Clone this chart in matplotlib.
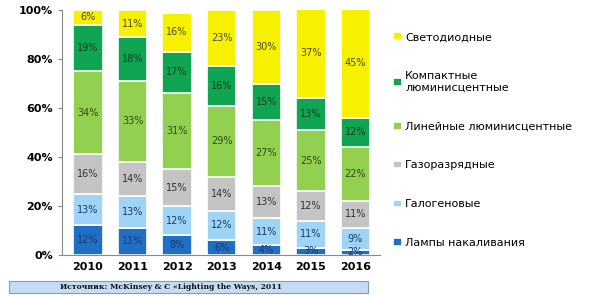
import matplotlib
matplotlib.use("Agg")
import matplotlib.pyplot as plt
import numpy as np
from matplotlib.patches import FancyBboxPatch

years = ["2010", "2011", "2012", "2013", "2014", "2015", "2016"]
series_names = ["Лампы накаливания", "Галогеновые", "Газоразрядные",
                "Линейные люминисцентные", "Компактные\nлюминисцентные", "Светодиодные"]
incandescent = [12, 11, 8, 6, 4, 3, 2]
halogen = [13, 13, 12, 12, 11, 11, 9]
gas_discharge = [16, 14, 15, 14, 13, 12, 11]
linear_fl = [34, 33, 31, 29, 27, 25, 22]
compact_fl = [19, 18, 17, 16, 15, 13, 12]
led = [6, 11, 16, 23, 30, 37, 45]

series = [incandescent, halogen, gas_discharge, linear_fl, compact_fl, led]
colors = ["#1f6fc4", "#9fd4f6", "#c4c4c4", "#92d050", "#0fa552", "#f7f100"]
text_colors = ["#1a3a6a", "#1a3a6a", "#333333", "#2a4a10", "#0a3a1a", "#4a4a00"]

plt.rcParams['font.family'] = ['DejaVu Sans']
fig = plt.figure(figsize=(6.03, 2.96), dpi=100)
ax = fig.add_axes([0.103, 0.139, 0.527, 0.827])

x = np.arange(len(years))
bottom = np.zeros(len(years))
handles = []
for vals, col, tc, name in zip(series, colors, text_colors, series_names):
    v = np.array(vals, dtype=float)
    b = ax.bar(x, v, 0.66, bottom=bottom, color=col, edgecolor="white", linewidth=1.2, label=name)
    handles.append(b)
    for xi, vi, bi in zip(x, v, bottom):
        ax.text(xi, bi + vi / 2, f"{int(vi)}%", ha="center", va="center", fontsize=7, color=tc)
    bottom += v

ax.set_xlim(-0.58, 6.55)
ax.set_ylim(0, 100)
ax.set_xticks(x)
ax.set_xticklabels(years, fontsize=8, fontweight="bold")
ax.set_yticks([0, 20, 40, 60, 80, 100])
ax.set_yticklabels(["0%", "20%", "40%", "60%", "80%", "100%"], fontsize=8, fontweight="bold")
ax.tick_params(axis="x", length=0, pad=5)
ax.tick_params(axis="y", length=3, color="#888888")
for s in ["top", "right"]:
    ax.spines[s].set_visible(False)
ax.spines["left"].set_color("#888888")
ax.spines["bottom"].set_color("#888888")

leg = fig.legend(handles[::-1], series_names[::-1], loc="upper left",
                 bbox_to_anchor=(0.635, 0.925), frameon=False, fontsize=8,
                 handlelength=0.8, handleheight=0.7, handletextpad=0.3,
                 labelspacing=2.6)

# source box
box = FancyBboxPatch((0.015, 0.01), 0.595, 0.04, boxstyle="square,pad=0",
                     transform=fig.transFigure, facecolor="#c6dcf5", edgecolor="#7a9cc8",
                     linewidth=0.8)
fig.patches.append(box)
fig.text(0.10, 0.03, "Источник: McKinsey & C «Lighting the Ways, 2011", fontsize=5.5,
         fontweight="bold", family="DejaVu Serif", va="center", ha="left", color="#111111")

fig.savefig("out.png", dpi=100)
